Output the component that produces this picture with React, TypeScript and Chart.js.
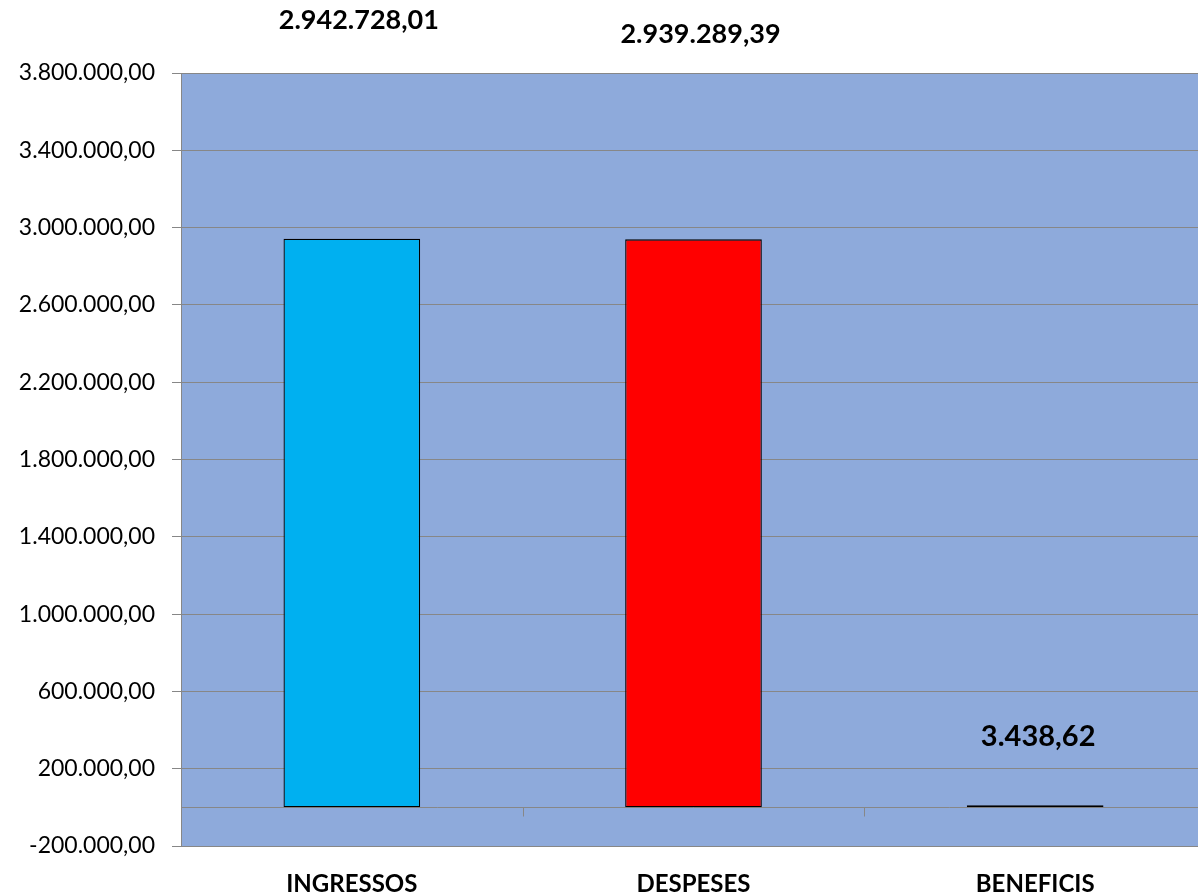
import React, { useEffect, useRef } from "react";
import { Chart, registerables } from "chart.js";

Chart.register(...registerables);

const categories = ["INGRESSOS", "DESPESES", "BENEFICIS"];
const values = [2942728.01, 2939289.39, 3438.62];
const valueLabels = ["2.942.728,01", "2.939.289,39", "3.438,62"];
const barColors = ["#00B0F0", "#FF0000", "#00B050"];
const yMin = -200000;
const yMax = 3800000;
const yStep = 400000;

// label styling (pixel offsets from bar top / center), as in the source
const labelDy = [-219, -206, -70];
const labelDx = [7, 7, 3];
const labelSize = [27, 27, 29];

const FONT = "Lato, 'Open Sans', sans-serif";

function fmt(v: number): string {
  const s = Math.abs(v).toFixed(2);
  const [i, d] = s.split(".");
  return (v < 0 ? "-" : "") + i.replace(/\B(?=(\d{3})+(?!\d))/g, ".") + "," + d;
}

const bgPlugin = {
  id: "bgPlugin",
  beforeDraw(chart: any) {
    const { ctx, chartArea } = chart;
    ctx.save();
    ctx.fillStyle = "#8EAADB";
    ctx.fillRect(chartArea.left, chartArea.top, chartArea.right - chartArea.left, chartArea.bottom - chartArea.top);
    ctx.restore();
  },
  beforeDatasetsDraw(chart: any) {
    const { ctx, chartArea, scales } = chart;
    const y0 = Math.round(scales.y.getPixelForValue(0)) + 0.5;
    ctx.save();
    ctx.strokeStyle = "#878787";
    ctx.lineWidth = 1;
    ctx.beginPath();
    ctx.moveTo(chartArea.left, y0);
    ctx.lineTo(chartArea.right, y0);
    const xs = scales.x;
    for (let i = 1; i < categories.length; i++) {
      const xb = Math.round((xs.getPixelForValue(i - 1) + xs.getPixelForValue(i)) / 2) + 0.5;
      ctx.moveTo(xb, y0);
      ctx.lineTo(xb, y0 + 9);
    }
    ctx.stroke();
    ctx.restore();
  },
  afterDraw(chart: any) {
    const { ctx } = chart;
    const meta = chart.getDatasetMeta(0);
    ctx.save();
    ctx.fillStyle = "#000";
    ctx.textAlign = "center";
    ctx.textBaseline = "alphabetic";
    meta.data.forEach((bar: any, i: number) => {
      const fs = labelSize[i];
      ctx.font = `bold ${fs}px ${FONT}`;
      const cy = bar.y + labelDy[i];
      ctx.fillText(valueLabels[i], bar.x + labelDx[i], cy + fs * 0.36);
    });
    ctx.restore();
  },
};

export default function App() {
  const ref = useRef<HTMLCanvasElement | null>(null);
  useEffect(() => {
    if (!ref.current) return;
    const chart = new Chart(ref.current, {
      type: "bar",
      data: {
        labels: categories,
        datasets: [
          {
            data: values,
            backgroundColor: barColors,
            borderColor: "#000000",
            borderWidth: 1.3,
            borderSkipped: false,
            minBarLength: 2,
            categoryPercentage: 1,
            barPercentage: 0.4,
          },
        ],
      },
      options: {
        responsive: false,
        animation: false,
        devicePixelRatio: 1,
        layout: { padding: { top: 73, right: 0, left: 0, bottom: 0 } },
        plugins: { legend: { display: false }, tooltip: { enabled: false }, title: { display: false } },
        scales: {
          y: {
            min: yMin,
            max: yMax,
            ticks: {
              stepSize: yStep,
              callback: (v: any) => fmt(Number(v)),
              color: "#000",
              font: { family: FONT, size: 23 },
              padding: 17,
            },
            grid: { color: "#878787", lineWidth: 1, tickLength: 9, tickColor: "#878787" },
            border: { color: "#878787", width: 1 },
            afterFit: (s: any) => {
              s.width = 181;
            },
          },
          x: {
            grid: { display: false },
            border: { display: false },
            ticks: {
              color: "#000",
              font: { family: FONT, size: 24, weight: "bold" },
              padding: 16,
              maxRotation: 0,
            },
            afterFit: (s: any) => {
              s.height = 49;
            },
          },
        },
      },
      plugins: [bgPlugin],
    } as any);
    return () => chart.destroy();
  }, []);
  return (
    <div style={{ position: "absolute", left: 0, top: 0, width: 1198, height: 895, overflow: "hidden", background: "#fff" }}>
      <canvas ref={ref} width={1206} height={895} style={{ display: "block" }} />
    </div>
  );
}
